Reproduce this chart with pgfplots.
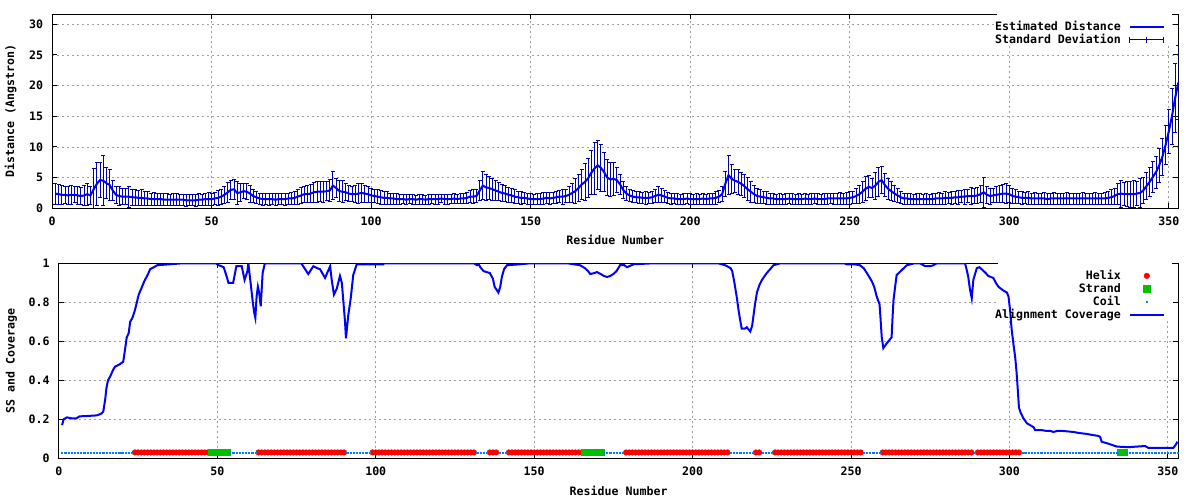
\documentclass[border=0pt]{standalone}
\usepackage{pgfplots}
\pgfplotsset{compat=1.18}
\usepackage{pgfplotstable}
\usepackage{fontspec}
\setmainfont{DejaVu Sans Mono}
\definecolor{lineblue}{RGB}{0,0,255}
\definecolor{errblue}{RGB}{0,0,175}
\definecolor{helixred}{RGB}{255,0,0}
\definecolor{strandgreen}{RGB}{0,192,0}
\definecolor{coilblue}{RGB}{0,128,255}
\definecolor{gridgray}{RGB}{160,160,160}
\newcommand{\gfont}{\fontsize{11.6}{13}\selectfont\bfseries}

\pgfplotstableread{
x y e
1 2.4 1.7
2 2.3 1.6
3 2.2 1.5
4 2.2 1.4
5 2.1 1.4
6 2.2 1.5
7 2.2 1.3
8 2.1 1.4
9 2.0 1.4
10 2.1 1.6
11 2.3 1.8
12 2.1 1.5
13 3.1 3.4
14 4.0 3.5
15 4.6 2.9
16 4.5 4.1
17 4.1 2.5
18 3.8 2.6
19 2.9 1.7
20 2.2 1.4
21 2.0 1.5
22 1.9 1.3
23 1.9 1.3
24 1.9 1.7
25 1.8 1.3
26 1.8 1.3
27 1.7 1.2
28 1.7 1.3
29 1.6 1.1
30 1.6 1.1
31 1.5 1.0
32 1.5 1.1
33 1.5 1.0
34 1.5 1.0
35 1.4 1.0
36 1.4 1.0
37 1.4 0.9
38 1.4 1.0
39 1.4 1.0
40 1.4 0.9
41 1.4 0.9
42 1.3 1.0
43 1.3 0.9
44 1.3 0.9
45 1.3 1.0
46 1.4 1.0
47 1.4 0.9
48 1.5 1.0
49 1.5 1.1
50 1.5 1.0
51 1.6 1.0
52 1.7 1.2
53 1.9 1.2
54 2.2 1.4
55 2.6 1.6
56 3.0 1.5
57 3.1 1.6
58 2.5 1.9
59 2.6 1.5
60 2.8 1.2
61 2.7 1.3
62 2.4 1.4
63 2.0 1.1
64 1.8 1.0
65 1.6 0.9
66 1.5 1.0
67 1.5 0.9
68 1.5 1.0
69 1.5 0.9
70 1.4 1.0
71 1.5 0.9
72 1.5 0.9
73 1.5 1.0
74 1.6 0.9
75 1.6 1.0
76 1.7 1.1
77 1.9 1.2
78 2.1 1.3
79 2.3 1.3
80 2.3 1.4
81 2.4 1.5
82 2.6 1.6
83 2.7 1.7
84 2.7 1.6
85 2.7 1.7
86 2.8 1.6
87 2.9 1.8
88 3.7 2.3
89 3.3 1.5
90 2.8 1.7
91 2.7 1.8
92 2.6 1.4
93 2.4 1.3
94 2.3 1.2
95 2.3 1.4
96 2.4 1.6
97 2.5 1.5
98 2.4 1.4
99 2.3 1.3
100 2.1 1.2
101 2.0 1.1
102 1.9 1.1
103 1.8 1.1
104 1.7 1.0
105 1.7 1.0
106 1.6 0.9
107 1.6 0.9
108 1.5 0.9
109 1.5 0.8
110 1.5 0.7
111 1.4 0.8
112 1.5 0.7
113 1.5 0.8
114 1.4 0.7
115 1.5 0.8
116 1.5 0.8
117 1.4 0.7
118 1.5 0.8
119 1.5 0.7
120 1.5 0.8
121 1.5 0.8
122 1.6 0.7
123 1.5 0.8
124 1.5 0.8
125 1.5 0.7
126 1.6 0.8
127 1.5 0.7
128 1.6 0.8
129 1.6 0.8
130 1.7 0.9
131 1.9 1.0
132 1.9 1.1
133 2.0 1.1
134 2.9 1.6
135 3.7 2.3
136 3.4 2.1
137 3.3 1.9
138 3.1 1.8
139 2.9 1.6
140 2.7 1.5
141 2.5 1.4
142 2.4 1.3
143 2.2 1.2
144 2.1 1.2
145 1.9 1.1
146 1.8 1.0
147 1.7 1.0
148 1.7 0.9
149 1.6 0.9
150 1.5 0.9
151 1.5 0.8
152 1.5 0.9
153 1.5 0.9
154 1.6 1.0
155 1.7 0.9
156 1.6 1.0
157 1.7 0.9
158 1.8 1.0
159 1.9 1.0
160 1.9 1.2
161 2.0 1.1
162 2.2 1.3
163 2.5 1.6
164 2.8 2.0
165 3.3 2.2
166 3.9 2.4
167 4.3 3.0
168 4.9 3.2
169 5.8 3.6
170 6.5 4.2
171 7.0 4.0
172 6.6 3.8
173 5.9 3.2
174 5.0 2.9
175 4.7 2.8
176 4.8 2.7
177 4.6 2.0
178 3.9 1.6
179 3.0 1.4
180 2.4 1.2
181 2.1 1.0
182 1.9 1.0
183 1.8 0.9
184 1.8 1.0
185 1.7 0.9
186 1.7 1.0
187 1.7 0.9
188 1.8 1.0
189 2.0 1.1
190 2.2 1.3
191 2.1 1.1
192 1.9 1.0
193 1.7 0.9
194 1.6 0.9
195 1.6 0.8
196 1.5 0.9
197 1.5 0.8
198 1.5 0.9
199 1.6 0.8
200 1.5 0.9
201 1.5 0.8
202 1.5 0.9
203 1.5 0.8
204 1.6 0.9
205 1.5 0.8
206 1.6 0.9
207 1.6 0.9
208 1.7 1.0
209 1.9 1.0
210 2.3 1.2
211 4.0 2.0
212 5.4 3.2
213 4.8 2.4
214 4.5 1.9
215 4.3 2.0
216 4.0 1.9
217 3.6 1.9
218 3.1 1.9
219 2.7 1.7
220 2.3 1.4
221 2.0 1.2
222 1.9 1.1
223 1.8 1.0
224 1.7 1.0
225 1.6 0.9
226 1.6 0.9
227 1.5 0.8
228 1.5 0.9
229 1.5 0.8
230 1.5 0.9
231 1.6 0.8
232 1.5 0.9
233 1.5 0.8
234 1.5 0.9
235 1.5 0.8
236 1.6 0.9
237 1.5 0.8
238 1.5 0.9
239 1.6 0.8
240 1.5 0.9
241 1.5 0.8
242 1.5 0.9
243 1.6 0.9
244 1.6 0.8
245 1.6 0.9
246 1.6 0.9
247 1.6 1.0
248 1.6 0.9
249 1.6 1.0
250 1.7 1.0
251 1.8 1.0
252 2.0 1.2
253 2.3 1.5
254 2.7 1.7
255 3.2 2.0
256 3.5 1.8
257 3.3 1.6
258 3.7 2.2
259 4.3 2.3
260 4.6 2.2
261 3.8 1.9
262 3.2 1.7
263 2.8 1.5
264 2.4 1.3
265 2.1 1.1
266 1.8 1.0
267 1.6 0.9
268 1.6 0.9
269 1.5 0.9
270 1.5 0.8
271 1.5 0.9
272 1.5 0.9
273 1.5 0.8
274 1.5 0.9
275 1.5 0.8
276 1.5 0.9
277 1.6 0.9
278 1.6 1.0
279 1.6 0.9
280 1.7 1.0
281 1.7 0.9
282 1.7 1.0
283 1.8 1.0
284 1.8 1.1
285 1.9 1.0
286 1.9 1.2
287 2.0 1.1
288 2.0 1.4
289 2.0 1.2
290 2.1 1.3
291 2.3 1.4
292 2.6 2.4
293 2.2 1.4
294 2.0 1.3
295 2.1 1.2
296 2.2 1.3
297 2.3 1.4
298 2.4 1.5
299 2.4 1.6
300 2.3 1.4
301 2.0 1.2
302 1.9 1.1
303 1.8 1.0
304 1.7 1.0
305 1.7 0.9
306 1.7 1.0
307 1.6 0.9
308 1.6 1.0
309 1.6 0.9
310 1.6 0.9
311 1.6 1.0
312 1.5 0.9
313 1.6 0.9
314 1.6 1.0
315 1.6 0.9
316 1.6 0.9
317 1.6 0.9
318 1.6 1.0
319 1.6 0.9
320 1.6 0.9
321 1.6 0.9
322 1.6 0.9
323 1.6 1.0
324 1.6 0.9
325 1.6 0.9
326 1.6 0.9
327 1.6 1.0
328 1.6 0.9
329 1.6 0.9
330 1.6 1.0
331 1.7 1.0
332 1.8 1.2
333 2.0 1.3
334 2.3 1.7
335 2.4 2.2
336 2.3 1.9
337 2.3 2.0
338 2.3 2.1
339 2.3 2.2
340 2.4 2.0
341 2.5 2.3
342 2.9 2.1
343 3.6 2.2
344 4.3 2.4
345 5.1 2.5
346 5.9 2.6
347 7.0 2.8
348 8.4 3.0
349 10.3 3.2
350 12.5 3.6
351 15.0 4.6
352 18.0 5.6
353 20.5 6.0
}\dist

\pgfplotsset{
 gp/.style={
  scale only axis,
  axis line style={black, line width=1pt},
  major tick style={black, line width=1pt},
  major tick length=5pt,
  tick align=inside,
  grid=major,
  major grid style={gridgray, line width=0.8pt, dash pattern=on 2pt off 3pt},
  /pgf/number format/assume math mode=true,
  tick label style={font=\gfont, inner sep=0pt},
  xticklabel style={anchor=center, yshift=-13.4pt},
  yticklabel style={anchor=east, xshift=-9pt},
  label style={font=\gfont},
  legend cell align=right,
  legend plot pos=right,
  legend style={draw=none, fill=none, font=\gfont, inner sep=4pt,
    at={(1,1)}, anchor=north east, xshift=-9.3pt, yshift=-3.1pt,
    nodes={inner sep=0pt, text height=8.5pt, text depth=2pt},
    row sep=2.5pt, column sep=8pt},
 },
 legline/.style={legend image code/.code={\draw[##1] (0pt,0pt) -- (34pt,0pt);}},
 legmark/.style={legend image code/.code={\draw[##1] plot coordinates {(17pt,0pt)};}},
}

\begin{document}
\begin{tikzpicture}
\fill[white] (0,0) rectangle (1200pt,500pt);
\begin{axis}[gp, at={(52.2pt,291.7pt)}, anchor=south west,
  width=1126.1pt, height=194pt,
  xmin=0, xmax=353, ymin=0, ymax=31.63,
  xtick={0,50,100,150,200,250,300,350}, ytick={0,5,10,15,20,25,30},
  xlabel={Residue Number}, ylabel={Distance (Angstron)},
  xlabel style={at={(axis description cs:0.5,-0.163)}, anchor=center},
  ylabel style={at={(axis description cs:-0.037,0.5)}, anchor=center}]
\fill[white] (axis cs:296.2,26.8) rectangle (axis cs:351.0,31.63);
\addplot[forget plot, color=errblue, draw=errblue, line width=0.9pt, mark=none,
  error bars/.cd, y dir=both, y explicit,
  error bar style={draw=errblue, line width=0.9pt},
  error mark=-,
  error mark options={rotate=90, draw=errblue, line width=0.9pt, mark size=2pt}]
  table[x=x, y=y, y error=e] {\dist};
\addplot[forget plot, color=lineblue, draw=lineblue, line width=2pt, mark=none]
  table[x=x, y=y] {\dist};
\addlegendimage{lineblue, line width=2pt, legline}
\addlegendentry{Estimated Distance}
\addlegendimage{legend image code/.code={\draw[errblue,line width=0.9pt] (0pt,0pt)--(34pt,0pt) (0pt,-3pt)--(0pt,3pt) (17pt,-3pt)--(17pt,3pt) (34pt,-3pt)--(34pt,3pt);}}
\addlegendentry{Standard Deviation}
\end{axis}

\begin{axis}[gp, at={(58.9pt,41.7pt)}, anchor=south west,
  width=1119.4pt, height=195pt,
  xmin=0, xmax=353.3, ymin=0, ymax=1,
  xtick={0,50,100,150,200,250,300,350}, ytick={0,0.2,0.4,0.6,0.8,1},
  xlabel={Residue Number}, ylabel={SS and Coverage},
  xlabel style={at={(axis description cs:0.5,-0.166)}, anchor=center},
  ylabel style={at={(axis description cs:-0.0425,0.5)}, anchor=center}]
\fill[white] (axis cs:296.4,0.709) rectangle (axis cs:351.4,1);
\addplot[only marks, mark=*, mark size=2.8pt, helixred, legmark] coordinates {
(24,0.03)(25,0.03)(26,0.03)(27,0.03)(28,0.03)(29,0.03)(30,0.03)(31,0.03)(32,0.03)(33,0.03)(34,0.03)(35,0.03)(36,0.03)(37,0.03)(38,0.03)(39,0.03)(40,0.03)(41,0.03)(42,0.03)(43,0.03)(44,0.03)(45,0.03)(46,0.03)(47,0.03)
(63,0.03)(64,0.03)(65,0.03)(66,0.03)(67,0.03)(68,0.03)(69,0.03)(70,0.03)(71,0.03)(72,0.03)(73,0.03)(74,0.03)(75,0.03)(76,0.03)(77,0.03)(78,0.03)(79,0.03)(80,0.03)(81,0.03)(82,0.03)(83,0.03)(84,0.03)(85,0.03)(86,0.03)(87,0.03)(88,0.03)(89,0.03)(90,0.03)
(99,0.03)(100,0.03)(101,0.03)(102,0.03)(103,0.03)(104,0.03)(105,0.03)(106,0.03)(107,0.03)(108,0.03)(109,0.03)(110,0.03)(111,0.03)(112,0.03)(113,0.03)(114,0.03)(115,0.03)(116,0.03)(117,0.03)(118,0.03)(119,0.03)(120,0.03)(121,0.03)(122,0.03)(123,0.03)(124,0.03)(125,0.03)(126,0.03)(127,0.03)(128,0.03)(129,0.03)(130,0.03)(131,0.03)
(136,0.03)(137,0.03)(138,0.03)
(142,0.03)(143,0.03)(144,0.03)(145,0.03)(146,0.03)(147,0.03)(148,0.03)(149,0.03)(150,0.03)(151,0.03)(152,0.03)(153,0.03)(154,0.03)(155,0.03)(156,0.03)(157,0.03)(158,0.03)(159,0.03)(160,0.03)(161,0.03)(162,0.03)(163,0.03)(164,0.03)(165,0.03)
(179,0.03)(180,0.03)(181,0.03)(182,0.03)(183,0.03)(184,0.03)(185,0.03)(186,0.03)(187,0.03)(188,0.03)(189,0.03)(190,0.03)(191,0.03)(192,0.03)(193,0.03)(194,0.03)(195,0.03)(196,0.03)(197,0.03)(198,0.03)(199,0.03)(200,0.03)(201,0.03)(202,0.03)(203,0.03)(204,0.03)(205,0.03)(206,0.03)(207,0.03)(208,0.03)(209,0.03)(210,0.03)(211,0.03)
(220,0.03)(221,0.03)
(226,0.03)(227,0.03)(228,0.03)(229,0.03)(230,0.03)(231,0.03)(232,0.03)(233,0.03)(234,0.03)(235,0.03)(236,0.03)(237,0.03)(238,0.03)(239,0.03)(240,0.03)(241,0.03)(242,0.03)(243,0.03)(244,0.03)(245,0.03)(246,0.03)(247,0.03)(248,0.03)(249,0.03)(250,0.03)(251,0.03)(252,0.03)(253,0.03)
(260,0.03)(261,0.03)(262,0.03)(263,0.03)(264,0.03)(265,0.03)(266,0.03)(267,0.03)(268,0.03)(269,0.03)(270,0.03)(271,0.03)(272,0.03)(273,0.03)(274,0.03)(275,0.03)(276,0.03)(277,0.03)(278,0.03)(279,0.03)(280,0.03)(281,0.03)(282,0.03)(283,0.03)(284,0.03)(285,0.03)(286,0.03)(287,0.03)(288,0.03)
(290,0.03)(291,0.03)(292,0.03)(293,0.03)(294,0.03)(295,0.03)(296,0.03)(297,0.03)(298,0.03)(299,0.03)(300,0.03)(301,0.03)(302,0.03)(303,0.03)
};
\addlegendentry{Helix}
\addplot[only marks, mark=square*, mark size=3.2pt, strandgreen, legmark] coordinates {
(48,0.03)(49,0.03)(50,0.03)(51,0.03)(52,0.03)(53,0.03)
(166,0.03)(167,0.03)(168,0.03)(169,0.03)(170,0.03)(171,0.03)
(335,0.03)(336,0.03)
};
\addlegendentry{Strand}
\addplot[only marks, mark=square*, mark size=0.6pt, coilblue, legmark] coordinates {
(1,0.03)(2,0.03)(3,0.03)(4,0.03)(5,0.03)(6,0.03)(7,0.03)(8,0.03)(9,0.03)(10,0.03)(11,0.03)(12,0.03)(13,0.03)(14,0.03)(15,0.03)(16,0.03)(17,0.03)(18,0.03)(19,0.03)(20,0.03)(21,0.03)(22,0.03)(23,0.03)
(54,0.03)(55,0.03)(56,0.03)(57,0.03)(58,0.03)(59,0.03)(60,0.03)(61,0.03)(62,0.03)
(91,0.03)(92,0.03)(93,0.03)(94,0.03)(95,0.03)(96,0.03)(97,0.03)(98,0.03)
(132,0.03)(133,0.03)(134,0.03)(135,0.03)
(139,0.03)(140,0.03)(141,0.03)
(172,0.03)(173,0.03)(174,0.03)(175,0.03)(176,0.03)(177,0.03)(178,0.03)
(212,0.03)(213,0.03)(214,0.03)(215,0.03)(216,0.03)(217,0.03)(218,0.03)(219,0.03)
(222,0.03)(223,0.03)(224,0.03)(225,0.03)
(254,0.03)(255,0.03)(256,0.03)(257,0.03)(258,0.03)(259,0.03)
(289,0.03)
(304,0.03)(305,0.03)(306,0.03)(307,0.03)(308,0.03)(309,0.03)(310,0.03)(311,0.03)(312,0.03)(313,0.03)(314,0.03)(315,0.03)(316,0.03)(317,0.03)(318,0.03)(319,0.03)(320,0.03)(321,0.03)(322,0.03)(323,0.03)(324,0.03)(325,0.03)(326,0.03)(327,0.03)(328,0.03)(329,0.03)(330,0.03)(331,0.03)(332,0.03)(333,0.03)(334,0.03)
(337,0.03)(338,0.03)(339,0.03)(340,0.03)(341,0.03)(342,0.03)(343,0.03)(344,0.03)(345,0.03)(346,0.03)(347,0.03)(348,0.03)(349,0.03)(350,0.03)(351,0.03)(352,0.03)(353,0.03)
};
\addlegendentry{Coil}
\addplot[lineblue, line width=2pt, legline] coordinates {
(1,0.17)(1.5,0.2)(2.5,0.21)(4,0.205)(5.5,0.205)(6.5,0.215)(9,0.217)(12,0.22)(13.5,0.23)(14,0.24)(14.6,0.30)(15,0.36)(15.5,0.40)(16.2,0.42)(17,0.45)(17.7,0.47)(19,0.48)(20.3,0.495)(20.8,0.55)(21.4,0.62)(22,0.64)(22.5,0.70)(23.2,0.72)(24,0.76)(24.6,0.80)(25.2,0.84)(26,0.87)(27,0.91)(28,0.94)(28.8,0.97)(30,0.98)(31,0.99)(35,0.995)(39,1)(49.5,1)(50.5,0.99)(52,0.98)(53,0.93)(53.5,0.9)(55,0.9)(56,0.985)(57.7,0.985)(58.6,0.915)(59.5,0.96)(59.8,1.0)(60.5,0.90)(61.2,0.80)(61.6,0.75)(62,0.72)(62.4,0.83)(62.8,0.88)(63.2,0.85)(63.7,0.78)(64.3,0.95)(65,1.0)(76.5,1.0)(78.7,0.945)(80.3,0.985)(81.5,0.975)(82.4,0.97)(84,0.925)(85.6,0.985)(86.1,0.915)(86.8,0.84)(87.7,0.87)(88.7,0.935)(89.3,0.9)(89.8,0.8)(90.3,0.70)(90.6,0.615)(91,0.68)(91.3,0.73)(92.1,0.82)(92.9,0.94)(94,0.995)(102.4,0.995)(102.6,1.0)(131,1.0)(132,0.99)(132.5,0.995)(133,0.98)(134,0.96)(136,0.95)(137,0.92)(137.5,0.88)(138.3,0.86)(138.7,0.85)(139.3,0.88)(139.8,0.93)(140.5,0.97)(141.4,0.99)(145.6,0.995)(148.7,1.0)(160.5,1.0)(164.5,0.99)(166,0.975)(167,0.96)(167.7,0.945)(169,0.95)(169.8,0.955)(171,0.945)(172,0.935)(173,0.93)(174,0.935)(175,0.945)(176,0.96)(177.1,0.99)(178.5,0.99)(179.3,0.98)(181.4,0.995)(187.7,1.0)(208,1.0)(210.3,0.99)(212,0.975)(212.5,0.96)(213.2,0.9)(213.6,0.86)(214,0.82)(214.5,0.76)(215,0.71)(215.5,0.665)(216.5,0.665)(217.1,0.672)(218.2,0.65)(218.8,0.68)(219.2,0.73)(219.7,0.79)(220.3,0.85)(221,0.885)(221.9,0.915)(223.4,0.95)(224.5,0.97)(225.5,0.99)(227.7,1.0)(248,1.0)(248.5,0.995)(251,0.995)(252.8,0.99)(254,0.975)(255,0.95)(256.5,0.91)(257.3,0.88)(258.1,0.83)(259,0.79)(259.3,0.72)(259.7,0.62)(260.2,0.565)(261.3,0.59)(262.3,0.61)(262.8,0.62)(263.1,0.72)(263.4,0.81)(264,0.89)(264.4,0.94)(266,0.965)(267.6,0.99)(270,1.0)(271.8,1.0)(273.4,0.985)(275,0.985)(276,0.99)(277,1.0)(286,1.0)(286.6,0.96)(287,0.93)(287.5,0.87)(288.1,0.82)(288.6,0.915)(289.7,0.975)(290.5,0.98)(291.2,0.97)(292.5,0.95)(293.3,0.935)(294.9,0.925)(295.7,0.9)(296.5,0.88)(298.1,0.86)(299.2,0.85)(299.7,0.83)(300.2,0.76)(300.7,0.66)(301.3,0.58)(301.8,0.52)(302.2,0.45)(302.5,0.384)(303,0.26)(303.5,0.235)(304.4,0.205)(305.5,0.18)(306.5,0.17)(307.6,0.16)(308.1,0.145)(310,0.145)(311.8,0.14)(313,0.14)(313.9,0.135)(315,0.14)(317,0.14)(320.2,0.135)(321.8,0.13)(324.4,0.125)(326,0.12)(328,0.115)(328.6,0.11)(329.1,0.085)(331.2,0.075)(333.9,0.06)(337.5,0.057)(340.2,0.06)(342.8,0.063)(343.9,0.053)(351.7,0.053)(352.5,0.07)(353,0.085)
};
\addlegendentry{Alignment Coverage}
\end{axis}
\pgfresetboundingbox
\useasboundingbox (0,0) rectangle (1200pt,500pt);
\end{tikzpicture}
\end{document}
